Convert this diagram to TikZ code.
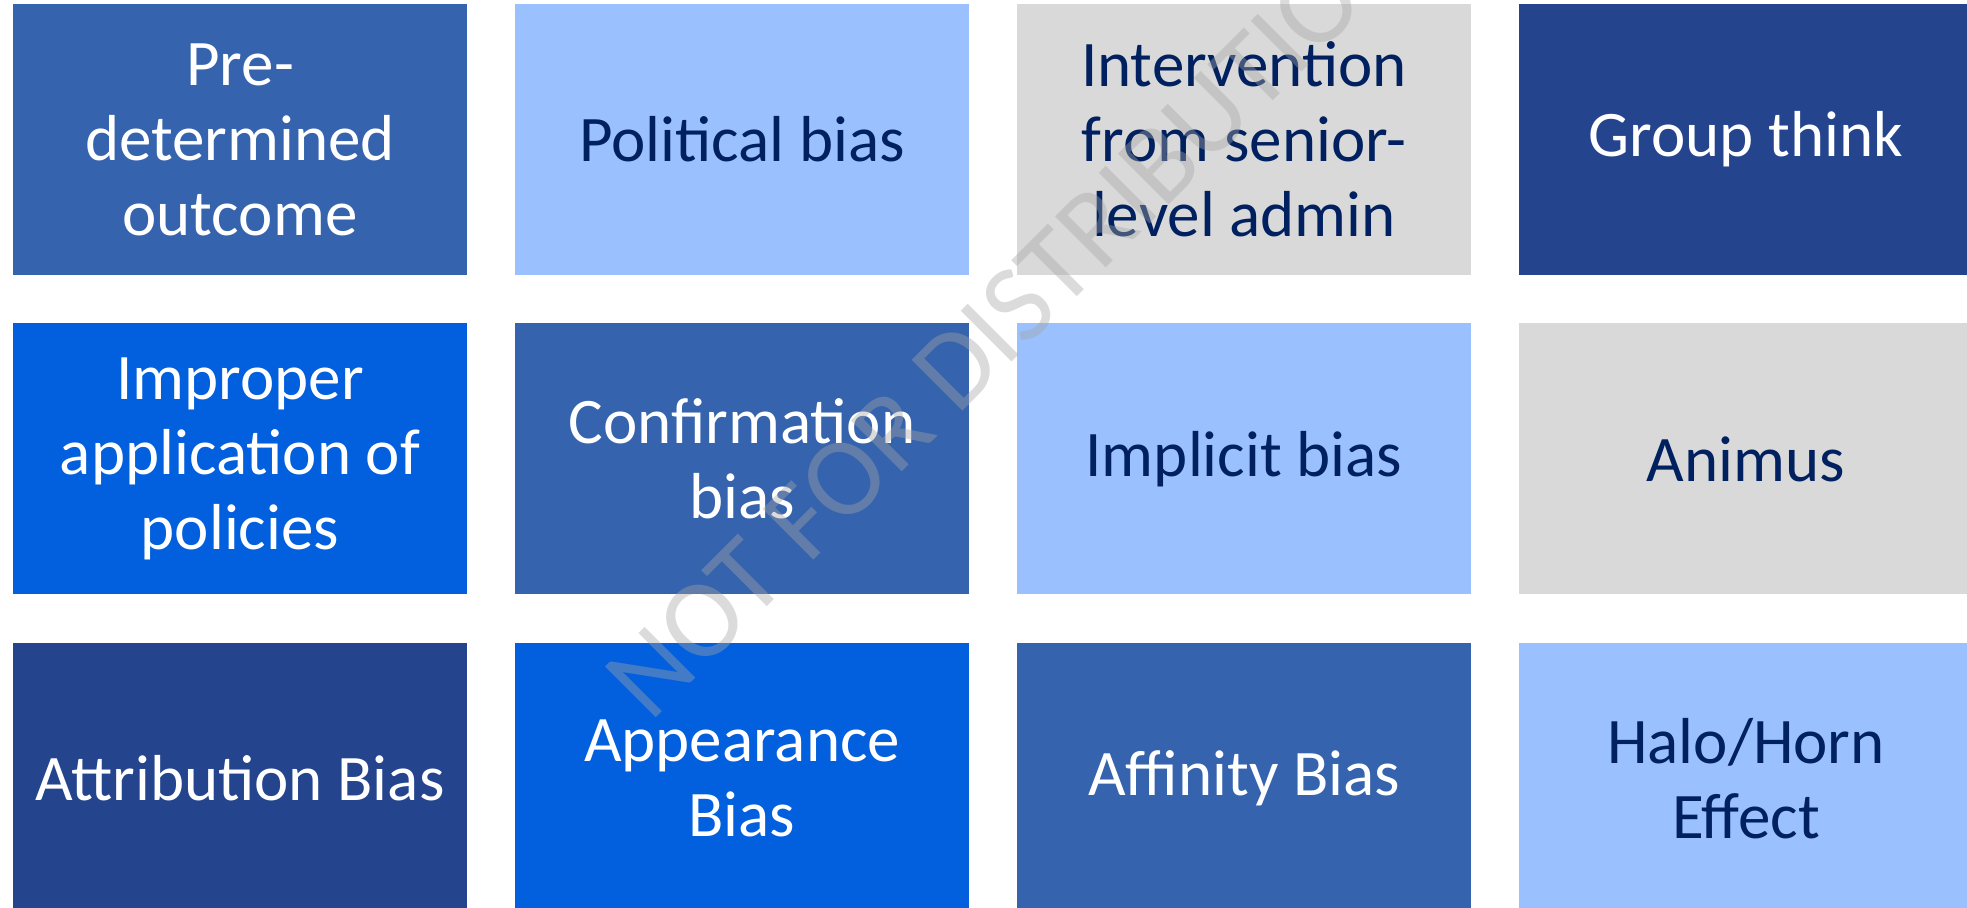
\documentclass[tikz,border=0pt]{standalone}
\usepackage{fontspec}
\setmainfont{Carlito}
\definecolor{midblue}{HTML}{3563AE}
\definecolor{lightblue}{HTML}{9AC0FD}
\definecolor{lightgray}{HTML}{D9D9D9}
\definecolor{darkblue}{HTML}{24448E}
\definecolor{brightblue}{HTML}{025FDD}
\definecolor{navytext}{HTML}{002060}
\definecolor{wmgray}{HTML}{A6A6A6}
\tikzset{
  tile/.style={rectangle, inner sep=0pt, minimum width=227pt, minimum height=135.5pt,
    align=center, font=\fontsize{32.5}{37.5}\selectfont},
  tmid/.style={tile, fill=midblue, text=white},
  tlight/.style={tile, fill=lightblue, text=navytext},
  tgray/.style={tile, fill=lightgray, text=navytext},
  tdark/.style={tile, fill=darkblue, text=white},
  tbright/.style={tile, fill=brightblue, text=white},
  watermark/.style={inner sep=0pt, text=wmgray, text opacity=0.4, font=\fontsize{56}{66}\selectfont}
}
\begin{document}
\begin{tikzpicture}[x=0.5pt,y=-0.5pt]
\useasboundingbox (0,0) rectangle (1967,908);
% row 1
\node[tmid]   (a1) at (240,139.5)  {Pre-\\determined\\outcome};
\node[tlight] (a2) at (742,139.5)  {Political bias};
\node[tgray]  (a3) at (1244,139.5) {Intervention\\from senior-\\level admin};
\node[tdark]  (a4) at (1746,139.5) {Group think};
% row 2
\node[tbright] (b1) at (240,459)  {Improper\\application of\\policies};
\node[tmid]    (b2) at (742,459)  {Confirmation\\bias};
\node[tlight]  (b3) at (1244,459) {Implicit bias};
\node[tgray]   (b4) at (1746,459) {Animus};
% row 3
\node[tdark]   (c1) at (240,778.5)  {Attribution Bias};
\node[tbright] (c2) at (742,778.5)  {Appearance\\Bias};
\node[tmid]    (c3) at (1244,778.5) {Affinity Bias};
\node[tlight]  (c4) at (1746,778.5) {Halo/Horn\\Effect};
% watermark
\node[watermark, rotate=45, anchor=base west] (wm) at (650,724) {NOT FOR DISTRIBUTION};
\end{tikzpicture}
\end{document}
